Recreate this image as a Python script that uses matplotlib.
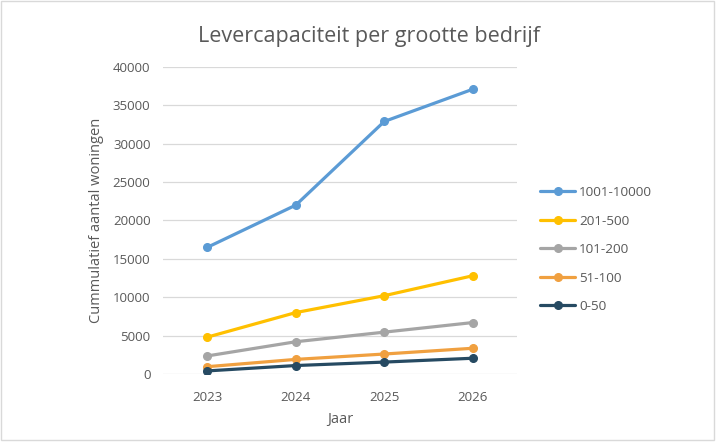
import matplotlib
matplotlib.use("Agg")
import matplotlib.pyplot as plt
from matplotlib.patches import Rectangle

plt.rcParams['font.family'] = ['Open Sans', 'DejaVu Sans']

years = ['2023', '2024', '2025', '2026']
series_names = ['1001-10000', '201-500', '101-200', '51-100', '0-50']
v_1001_10000 = [16500, 22000, 32900, 37100]
v_201_500 = [4800, 8000, 10200, 12800]
v_101_200 = [2350, 4200, 5450, 6700]
v_51_100 = [950, 1900, 2600, 3350]
v_0_50 = [400, 1100, 1550, 2050]
y_ticks = [0, 5000, 10000, 15000, 20000, 25000, 30000, 35000, 40000]

values = [v_1001_10000, v_201_500, v_101_200, v_51_100, v_0_50]
colors = ['#5B9BD5', '#FFC000', '#A5A5A5', '#F0A040', '#264A62']
text_col = '#595959'

fig = plt.figure(figsize=(7.16, 4.45), dpi=100)
ax = fig.add_axes([0.2277, 0.1596, 0.4944, 0.6899])

x = list(range(len(years)))
for name, vals, c in zip(series_names, values, colors):
    ax.plot(x, vals, color=c, lw=2.3, marker='o', markersize=5.5,
            label=name, solid_capstyle='round')

ax.set_xlim(-0.5, len(years) - 0.5)
ax.set_ylim(0, 40000)
ax.set_yticks(y_ticks)
ax.set_yticklabels([str(t) for t in y_ticks])
ax.set_xticks(x)
ax.set_xticklabels(years)
ax.grid(axis='y', color='#D9D9D9', lw=0.9)
ax.set_axisbelow(True)
for s in ax.spines.values():
    s.set_visible(False)
ax.tick_params(length=0, colors=text_col, labelsize=9.5, pad=9)
ax.tick_params(axis='x', pad=12)

ax.set_xlabel('Jaar', color=text_col, fontsize=10.5, labelpad=6)
ax.set_ylabel('Cummulatief aantal woningen', color=text_col, fontsize=10.5, labelpad=6)
fig.text(0.516, 0.918, 'Levercapaciteit per grootte bedrijf', ha='center', va='center',
         color=text_col, fontsize=15.5)

leg = ax.legend(loc='upper left', bbox_to_anchor=(0.745, 0.597), bbox_transform=fig.transFigure,
                frameon=False, fontsize=9.7, handlelength=2.6, handletextpad=0.3,
                labelspacing=1.15, borderpad=0)
for t in leg.get_texts():
    t.set_color(text_col)

fig.patches.append(Rectangle((0.001, 0.012), 0.996, 0.986, transform=fig.transFigure,
                             fill=False, edgecolor='#D9D9D9', lw=1))

fig.savefig('out.png', dpi=100)
